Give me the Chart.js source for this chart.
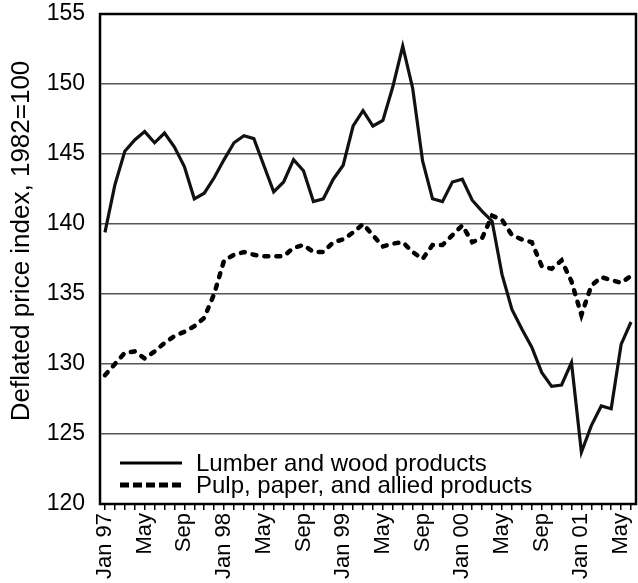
<!DOCTYPE html>
<html>
<head>
<meta charset="utf-8">
<script src="https://cdn.jsdelivr.net/npm/chart.js@4"></script>
<style>
  body { margin: 0; background: #fff; }
  canvas { display: block; }
</style>
</head>
<body>
<canvas id="priceChart" width="638" height="583"></canvas>
<script>
// monthly categories, Jan 1997 - Jun 2001
const months = [
  "Jan 97", "Feb 97", "Mar 97", "Apr 97", "May 97", "Jun 97", "Jul 97", "Aug 97", "Sep 97", "Oct 97", "Nov 97", "Dec 97",
  "Jan 98", "Feb 98", "Mar 98", "Apr 98", "May 98", "Jun 98", "Jul 98", "Aug 98", "Sep 98", "Oct 98", "Nov 98", "Dec 98",
  "Jan 99", "Feb 99", "Mar 99", "Apr 99", "May 99", "Jun 99", "Jul 99", "Aug 99", "Sep 99", "Oct 99", "Nov 99", "Dec 99",
  "Jan 00", "Feb 00", "Mar 00", "Apr 00", "May 00", "Jun 00", "Jul 00", "Aug 00", "Sep 00", "Oct 00", "Nov 00", "Dec 00",
  "Jan 01", "Feb 01", "Mar 01", "Apr 01", "May 01", "Jun 01"
];

// what is printed under the axis
const tickLabels = [
  "Jan 97", "", "", "", "May", "", "", "", "Sep", "", "", "",
  "Jan 98", "", "", "", "May", "", "", "", "Sep", "", "", "",
  "Jan 99", "", "", "", "May", "", "", "", "Sep", "", "", "",
  "Jan 00", "", "", "", "May", "", "", "", "Sep", "", "", "",
  "Jan 01", "", "", "", "May", ""
];

const lumber = [
  139.4, 142.8, 145.2, 146.0, 146.6, 145.8, 146.5, 145.5, 144.1, 141.8, 142.2, 143.3,
  144.6, 145.8, 146.3, 146.1, 144.2, 142.3, 143.0, 144.6, 143.8, 141.6, 141.8, 143.2,
  144.2, 147.0, 148.1, 147.0, 147.4, 149.8, 152.7, 149.7, 144.5, 141.8, 141.6, 143.0,
  143.2, 141.7, 140.9, 140.2, 136.4, 133.9, 132.5, 131.2, 129.4, 128.4, 128.5, 130.1,
  123.7, 125.6, 127.0, 126.8, 131.4, 133.0
];

const pulp = [
  129.2, 130.0, 130.8, 130.9, 130.4, 130.9, 131.5, 132.0, 132.3, 132.7, 133.3, 135.0,
  137.4, 137.8, 138.0, 137.8, 137.7, 137.7, 137.7, 138.3, 138.5, 138.0, 138.0, 138.7,
  138.9, 139.4, 140.0, 139.2, 138.4, 138.6, 138.7, 138.0, 137.5, 138.5, 138.5, 139.2,
  139.9, 138.7, 139.0, 140.6, 140.3, 139.2, 138.9, 138.7, 137.0, 136.8, 137.4, 135.9,
  133.5, 135.6, 136.2, 136.0, 135.8, 136.3
];

const seriesNames = ["Lumber and wood products", "Pulp, paper, and allied products"];
const yTitle = "Deflated price index, 1982=100";
const yMin = 120;
const yMax = 155;
const yStep = 5;

const FONT = '"Liberation Sans", Arial, sans-serif';
Chart.defaults.font.family = FONT;
Chart.defaults.color = "#000";

// box round the plot, the y title and the legend in the lower left corner
const frameAndLegend = {
  id: "frameAndLegend",
  afterDraw(chart) {
    const { ctx, chartArea: a } = chart;
    ctx.save();
    ctx.strokeStyle = "#000";
    ctx.lineWidth = 2.5;
    ctx.strokeRect(a.left, a.top, a.right - a.left, a.bottom - a.top);

    ctx.fillStyle = "#000";
    ctx.textBaseline = "middle";

    // axis title, a bit above the middle of the plot like the original
    ctx.save();
    ctx.font = "26px " + FONT;
    ctx.textAlign = "center";
    ctx.translate(22, (a.top + a.bottom) / 2 - 18);
    ctx.rotate(-Math.PI / 2);
    ctx.fillText(yTitle, 0, 0);
    ctx.restore();

    ctx.font = "24px " + FONT;
    chart.data.datasets.forEach((ds, i) => {
      const y = a.bottom - 41 + i * 22;
      ctx.beginPath();
      ctx.lineWidth = i === 0 ? 3 : 5;
      ctx.setLineDash(i === 0 ? [] : [9, 4]);
      ctx.moveTo(a.left + 20, y);
      ctx.lineTo(a.left + 82, y);
      ctx.stroke();
      ctx.setLineDash([]);
      ctx.fillText(ds.label, a.left + 96, y + 1);
    });
    ctx.restore();
  }
};

new Chart(document.getElementById("priceChart"), {
  type: "line",
  data: {
    labels: months,
    datasets: [
      {
        label: seriesNames[0],
        data: lumber,
        borderColor: "#111",
        borderWidth: 3.2,
        pointRadius: 0,
        tension: 0,
      },
      {
        label: seriesNames[1],
        data: pulp,
        borderColor: "#000",
        borderWidth: 4.5,
        borderDash: [4, 8],
        borderCapStyle: "round",
        pointRadius: 0,
        tension: 0,
      },
    ],
  },
  options: {
    responsive: false,
    animation: false,
    layout: { padding: { top: 0, right: 2, left: 0, bottom: 0 } },
    plugins: {
      legend: { display: false },
      tooltip: { enabled: false },
    },
    scales: {
      x: {
        offset: true,
        grid: {
          offset: false,
          drawOnChartArea: false,
          drawTicks: true,
          tickLength: 6,
          color: "#000",
          lineWidth: 1.5,
        },
        border: { display: true, color: "#000", width: 2 },
        ticks: {
          autoSkip: false,
          minRotation: 90,
          maxRotation: 90,
          padding: 3,
          font: { size: 22 },
          callback: (value, index) => tickLabels[index],
        },
        afterFit: (s) => {
          s.height = 79;
          s.paddingLeft = 0;
          s.paddingRight = 0;
        },
      },
      y: {
        min: yMin,
        max: yMax,
        grid: { color: "#555", lineWidth: 1.5, drawTicks: false },
        border: { display: true, color: "#000", width: 2 },
        ticks: { stepSize: yStep, padding: 15, font: { size: 23 } },
        afterFit: (s) => {
          s.width = 100;
          s.paddingTop = 14;
          s.paddingBottom = 0;
        },
      },
    },
  },
  plugins: [frameAndLegend],
});
</script>
</body>
</html>
